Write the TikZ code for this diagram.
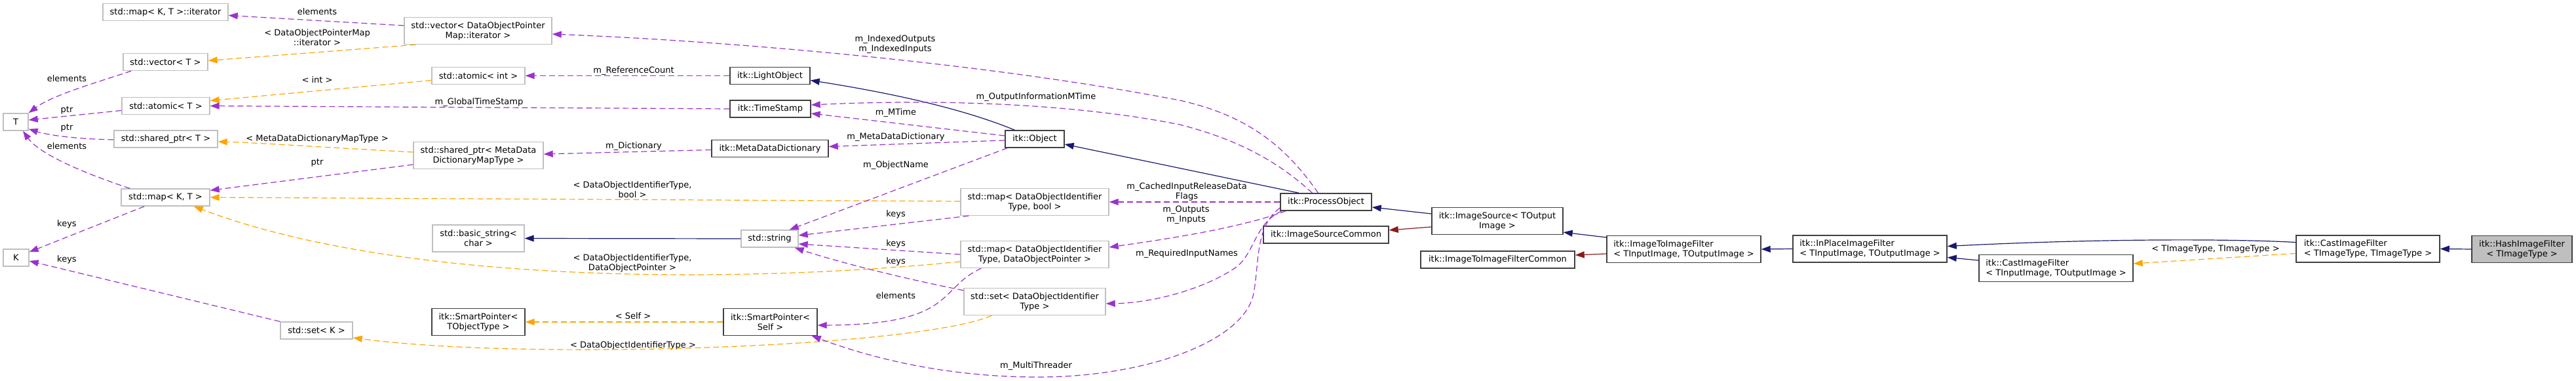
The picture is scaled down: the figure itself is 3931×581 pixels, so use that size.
\documentclass[tikz,border=0pt]{standalone}
\usepackage{fontspec}
\setmainfont{DejaVu Sans}
\usetikzlibrary{arrows.meta, calc}
\usepackage{xcolor}
\definecolor{usepurple}{HTML}{9A32CD}
\definecolor{tmplorange}{HTML}{FFA500}
\definecolor{inhnavy}{HTML}{191970}
\definecolor{privred}{HTML}{8B1A1A}
\definecolor{undocgrey}{HTML}{BFBFBF}
\definecolor{docgrey}{HTML}{404040}

\begin{document}
\begin{tikzpicture}[
    x=1bp, y=-1bp,
    font=\fontsize{13bp}{15bp}\selectfont,
    cls/.style={draw=docgrey, line width=1.4bp, fill=white, inner sep=0pt, minimum height=26bp, align=center},
    ext/.style={cls, draw=undocgrey},
    two/.style={minimum height=41bp},
    flushl/.style={align=left},
    lbl/.style={inner sep=0pt, align=center},
    arr/.style={-{Triangle[length=14bp, width=10bp]}, line width=1.2bp},
    uses/.style={arr, usepurple, dash pattern=on 9bp off 5bp},
    tmpl/.style={arr, tmplorange, dash pattern=on 9bp off 5bp},
    inh/.style={arr, inhnavy},
    priv/.style={arr, privred},
]
\useasboundingbox (0,0) rectangle (3931,581);

% std types - left
\node[ext, minimum width=38bp] (T) at (24,186) {T};
\node[ext, minimum width=39bp] (K) at (24.5,393) {K};
\node[ext, minimum width=191bp] (mapIter) at (252.5,18.5) {std::map< K, T >::iterator};
\node[ext, minimum width=129bp] (vecT) at (252.5,94.5) {std::vector< T >};
\node[ext, minimum width=134bp] (atomicT) at (253,161.5) {std::atomic< T >};
\node[ext, minimum width=158bp] (sharedT) at (253,212) {std::shared\_ptr< T >};
\node[ext, minimum width=135bp] (mapKT) at (252.5,301) {std::map< K, T >};
\node[ext, minimum width=110bp] (setK) at (483,504) {std::set< K >};

% template instances
\node[ext, two, minimum width=225bp] (vecDOPM) at (729.5,47) {std::vector< DataObjectPointer\\Map::iterator >};
\node[ext, minimum width=142bp] (atomicInt) at (730,115.5) {std::atomic< int >};
\node[ext, two, minimum width=198bp] (sharedMeta) at (730,237) {std::shared\_ptr< MetaData\\DictionaryMapType >};
\node[ext, two, minimum width=140bp] (basicStr) at (730,363.5) {std::basic\_string<\\char >};
\node[cls, two, minimum width=142bp] (smartT) at (730,491) {itk::SmartPointer<\\TObjectType >};

% itk members
\node[cls, minimum width=122bp] (lightObj) at (1175,115.5) {itk::LightObject};
\node[cls, minimum width=123bp] (timeStamp) at (1175.5,166) {itk::TimeStamp};
\node[cls, minimum width=178bp] (metaDict) at (1175,226.5) {itk::MetaDataDictionary};
\node[ext, minimum width=87bp] (string) at (1174.5,364) {std::string};
\node[cls, two, minimum width=143bp] (smartSelf) at (1175.5,491) {itk::SmartPointer<\\Self >};
\node[cls, minimum width=90bp] (object) at (1579,212) {itk::Object};
\node[ext, two, minimum width=226bp] (mapBool) at (1579,308) {std::map< DataObjectIdentifier\\Type, bool >};
\node[ext, two, minimum width=226bp] (mapPtr) at (1579,388) {std::map< DataObjectIdentifier\\Type, DataObjectPointer >};
\node[ext, two, minimum width=216bp] (setDOI) at (1579,460) {std::set< DataObjectIdentifier\\Type >};

% filter chain - right
\node[cls, minimum width=139bp] (processObj) at (2023.5,308) {itk::ProcessObject};
\node[cls, minimum width=191bp] (srcCommon) at (2023.5,358) {itk::ImageSourceCommon};
\node[cls, two, minimum width=200bp] (imgSource) at (2285,337) {itk::ImageSource< TOutput\\Image >};
\node[cls, minimum width=235bp] (i2iCommon) at (2285.5,396) {itk::ImageToImageFilterCommon};
\node[cls, two, minimum width=235bp, flushl] (i2i) at (2569.5,380) {itk::ImageToImageFilter\\< TInputImage, TOutputImage >};
\node[cls, two, minimum width=235bp, flushl] (inPlace) at (2853.5,379.5) {itk::InPlaceImageFilter\\< TInputImage, TOutputImage >};
\node[cls, two, minimum width=235bp, flushl] (castIn) at (3137.5,409) {itk::CastImageFilter\\< TInputImage, TOutputImage >};
\node[cls, two, minimum width=219bp, flushl] (castT) at (3613.5,379.5) {itk::CastImageFilter\\< TImageType, TImageType >};
\node[cls, two, fill=undocgrey, minimum width=153bp] (hash) at (3848.5,380) {itk::HashImageFilter\\< TImageType >};

% Edge labels
\node[lbl] (lbElemIter) at (484,18) {elements};
\node[lbl] (lbPtrMapIter) at (484,57.5) {< DataObjectPointerMap\\::iterator >};
\node[lbl] (lbElemVec) at (102,120) {elements};
\node[lbl] (lbInt) at (484,122) {< int >};
\node[lbl] (lbGlobalTS) at (731,156) {m\_GlobalTimeStamp};
\node[lbl] (lbPtrAtomic) at (102,168) {ptr};
\node[lbl] (lbPtrShared) at (102,195) {ptr};
\node[lbl] (lbElemMap) at (102,223) {elements};
\node[lbl] (lbMetaMapType) at (484,212) {< MetaDataDictionaryMapType >};
\node[lbl] (lbPtrMeta) at (484,248) {ptr};
\node[lbl] (lbKeysMap) at (102,342) {keys};
\node[lbl] (lbKeysSet) at (102,396) {keys};
\node[lbl] (lbRefCount) at (967,108) {m\_ReferenceCount};
\node[lbl] (lbDict) at (967,223) {m\_Dictionary};
\node[lbl] (lbIdBool) at (965,289.5) {< DataObjectIdentifierType,\\bool >};
\node[lbl] (lbIdPtr) at (965,401) {< DataObjectIdentifierType,\\DataObjectPointer >};
\node[lbl] (lbSelf) at (966,482) {< Self >};
\node[lbl] (lbIdType) at (966,527) {< DataObjectIdentifierType >};
\node[lbl] (lbIndexed) at (1366,68) {m\_IndexedOutputs\\m\_IndexedInputs};
\node[lbl] (lbOutInfo) at (1581,148) {m\_OutputInformationMTime};
\node[lbl] (lbMTime) at (1367,172) {m\_MTime};
\node[lbl] (lbMetaDict) at (1367,209) {m\_MetaDataDictionary};
\node[lbl] (lbObjName) at (1367,252) {m\_ObjectName};
\node[lbl] (lbCached) at (1811,292) {m\_CachedInputReleaseData\\Flags};
\node[lbl] (lbKeysBool) at (1367,327) {keys};
\node[lbl] (lbKeysPtr) at (1367,372) {keys};
\node[lbl] (lbKeysSetId) at (1367,399) {keys};
\node[lbl] (lbElemPtr) at (1367,451) {elements};
\node[lbl] (lbInOut) at (1810,327.5) {m\_Outputs\\m\_Inputs};
\node[lbl] (lbReqNames) at (1811,387) {m\_RequiredInputNames};
\node[lbl] (lbThreader) at (1581,558) {m\_MultiThreader};
\node[lbl] (lbImgType) at (3381,380) {< TImageType, TImageType >};

% Containers to T and K
\draw[uses] ($(vecDOPM.west)+(0,-8)$) -- ($(mapIter.east)+(0,5)$);
\draw[tmpl] ($(vecDOPM.south west)+(18,0)$) -- ($(vecT.east)+(0,-2)$);
\draw[uses] ($(vecT.south west)+(13,0)$) .. controls (150,125) and (80,145) .. (T.north east);
\draw[uses] ($(atomicT.west)+(0,7)$) -- ($(T.east)+(0,-3)$);
\draw[uses] ($(sharedT.west)+(0,1)$) .. controls (110,212) and (70,205) .. ($(T.south east)+(0,-3)$);
\draw[uses] ($(mapKT.north west)+(14,0)$) .. controls (130,265) and (60,235) .. ($(T.south)+(11,0)$);
\draw[uses] ($(mapKT.south west)+(36,0)$) -- ($(K.north east)+(0,5)$);
\draw[uses] (setK.north west) -- ($(K.east)+(0,5)$);
\draw[tmpl] ($(atomicInt.west)+(0,7)$) -- ($(atomicT.east)+(0,-8)$);
\draw[tmpl] ($(sharedMeta.west)+(0,-5)$) .. controls (500,225) and (400,218) .. ($(sharedT.east)+(0,4)$);
\draw[uses] ($(sharedMeta.west)+(0,14)$) -- ($(mapKT.north east)+(0,3)$);

% Members of the itk classes
\draw[uses] (timeStamp.west) -- (atomicT.east);
\draw[uses] (lightObj.west) -- (atomicInt.east);
\draw[uses] ($(metaDict.west)+(0,2)$) -- ($(sharedMeta.east)+(0,-2)$);
\draw[tmpl] ($(mapBool.west)+(0,-1)$) -- (mapKT.east);
\draw[tmpl] ($(mapPtr.west)+(0,11)$) .. controls (1100,435) and (600,430) .. ($(mapKT.south east)+(-25,0)$);
\draw[tmpl] ($(setDOI.south west)+(43,0)$) .. controls (1400,530) and (800,550) .. ($(setK.east)+(0,11)$);
\draw[inh] (string.west) -- (basicStr.east);
\draw[tmpl] (smartSelf.west) -- (smartT.east);
\draw[inh] ($(object.north west)+(15,0)$) .. controls (1480,170) and (1380,145) .. ($(lightObj.east)+(0,7)$);
\draw[uses] ($(object.west)+(0,-5)$) -- ($(timeStamp.east)+(0,7)$);
\draw[uses] ($(object.west)+(0,2)$) -- ($(metaDict.east)+(0,-3)$);
\draw[uses] ($(object.south west)+(4,0)$) -- ($(string.north east)+(-14,0)$);
\draw[uses] ($(mapBool.south west)+(13,0)$) -- ($(string.east)+(0,-5)$);
\draw[uses] (mapPtr.west) -- ($(string.east)+(0,8)$);
\draw[uses] ($(setDOI.north west)+(0,4)$) .. controls (1380,425) and (1280,400) .. ($(string.south east)+(-6,0)$);
\draw[uses] ($(mapPtr.south west)+(32,0)$) .. controls (1430,440) and (1460,495) .. ($(smartSelf.east)+(0,5)$);

% ProcessObject
\draw[inh] ($(processObj.north west)+(29,0)$) -- ($(object.east)+(0,8)$);
\draw[uses] ($(processObj.north)+(-12,0)$) .. controls (1960,220) and (1900,175) .. (1800,153)
    .. controls (1500,95) and (1100,62) .. ($(vecDOPM.east)+(0,5)$);
\draw[uses] ($(processObj.north)+(-21,0)$) .. controls (1960,255) and (1900,215) .. (1800,190)
    .. controls (1650,160) and (1450,150) .. ($(timeStamp.east)+(0,-6)$);
\draw[uses] (processObj.west) -- (mapBool.east);
\draw[uses] ($(processObj.south west)+(9,0)$) .. controls (1900,345) and (1800,362) .. ($(mapPtr.east)+(0,-11)$);
\draw[uses] ($(processObj.south west)+(3,0)$) .. controls (1915,340) and (1915,385) .. (1887,407)
    .. controls (1840,440) and (1760,462) .. ($(setDOI.east)+(0,3)$);
\draw[uses] ($(processObj.west)+(0,9)$) .. controls (1915,345) and (1922,400) .. (1913,447)
    .. controls (1900,520) and (1750,575) .. (1584,575)
    .. controls (1420,575) and (1300,535) .. ($(smartSelf.south east)+(-9,0)$);

% Filter hierarchy
\draw[inh] ($(imgSource.west)+(0,-11)$) -- ($(processObj.east)+(0,8)$);
\draw[priv] ($(imgSource.west)+(0,9)$) -- ($(srcCommon.east)+(0,-7)$);
\draw[inh] ($(i2i.west)+(0,-18)$) -- ($(imgSource.south east)+(0,-4)$);
\draw[priv] ($(i2i.west)+(0,7)$) -- ($(i2iCommon.east)+(0,-7)$);
\foreach \a/\b in {inPlace/i2i, hash/castT} {
    \draw[inh] (\a.west) -- (\b.east);
}
\draw[inh] ($(castIn.west)+(0,-12)$) -- ($(inPlace.east)+(0,13)$);
\draw[inh] ($(castT.west)+(0,-10)$) .. controls (3400,364) and (3200,364) .. ($(inPlace.east)+(0,-4)$);
\draw[tmpl] ($(castT.west)+(0,7)$) -- ($(castIn.east)+(0,-7)$);

\end{tikzpicture}
\end{document}
